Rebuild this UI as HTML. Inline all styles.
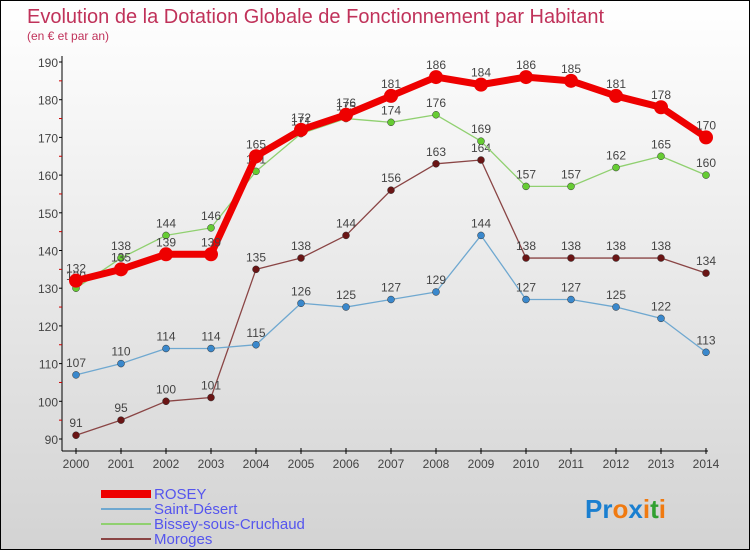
<!DOCTYPE html>
<html><head><meta charset="utf-8"><style>
body{margin:0}
#c{width:748px;height:548px;border:1px solid #000;background:linear-gradient(#fff,#d3d3d3);position:relative;font-family:"Liberation Sans",sans-serif;overflow:hidden}
</style></head><body>
<div id="c">
<svg id="s" width="748" height="548" style="position:absolute;left:0;top:0">
<text x="26" y="22" font-size="20" fill="#c0325a">Evolution de la Dotation Globale de Fonctionnement par Habitant</text>
<text x="26" y="39" font-size="12" fill="#c0325a">(en € et par an)</text>
<g id="ax"></g><g id="ser"></g>
<g font-size="15" fill="#5555ee">
<rect x="100" y="489" width="50" height="8" fill="#e00"/>
<text x="153" y="498">ROSEY</text>
<rect x="100" y="507" width="50" height="2" fill="#6fa8d0"/>
<text x="153" y="513">Saint-Désert</text>
<rect x="100" y="522" width="50" height="2" fill="#90d070"/>
<text x="153" y="528">Bissey-sous-Cruchaud</text>
<rect x="100" y="537" width="50" height="2" fill="#8a4545"/>
<text x="153" y="543">Moroges</text>
</g>
<text x="584" y="517" font-size="26" font-weight="bold"><tspan fill="#1a7fd0">Pr</tspan><tspan fill="#f07a10">o</tspan><tspan fill="#1a7fd0">x</tspan><tspan fill="#f07a10">i</tspan><tspan fill="#30a030">t</tspan><tspan fill="#f07a10">i</tspan></text>
</svg></div>
<script>
const years=[2000,2001,2002,2003,2004,2005,2006,2007,2008,2009,2010,2011,2012,2013,2014];
const yTicks=[90,100,110,120,130,140,150,160,170,180,190];
const rosey=[132,135,139,139,165,172,176,181,186,184,186,185,181,178,170];
const saintDesert=[107,110,114,114,115,126,125,127,129,144,127,127,125,122,113];
const bissey=[130,138,144,146,161,171,175,174,176,169,157,157,162,165,160];
const moroges=[91,95,100,101,135,138,144,156,163,164,138,138,138,138,134];
const NS="http://www.w3.org/2000/svg";
const X=i=>75+i*45, Y=v=>438-(v-90)*3.77;
function mk(p,t,a){const e=document.createElementNS(NS,t);for(const k in a)e.setAttribute(k,a[k]);p.appendChild(e);return e;}
const ax=document.getElementById('ax');
let l=mk(ax,'line',{x1:61,y1:55,x2:61,y2:450,stroke:'#000'});


l=mk(ax,'line',{x1:61,y1:450,x2:707,y2:450,stroke:'#000'});


yTicks.forEach(v=>{mk(ax,'line',{x1:58,x2:61,y1:Y(v),y2:Y(v),stroke:'#000'});
 if(v<190)mk(ax,'line',{x1:58,x2:61,y1:Y(v+5),y2:Y(v+5),stroke:'#c00'});
 const t=mk(ax,'text',{x:57,y:Y(v)+5,'font-size':12,fill:'#444','text-anchor':'end'});t.textContent=v;
 
 });
years.forEach((y,i)=>{mk(ax,'line',{x1:X(i),x2:X(i),y1:447,y2:453,stroke:'#000'});
 const t=mk(ax,'text',{x:X(i),y:467,'font-size':12,fill:'#444','text-anchor':'middle'});t.textContent=y;
 
 });
const ser=document.getElementById('ser');
function draw(d,name,col,dot,w,r){const g=mk(ser,'g',{});
 
 
 mk(g,'polyline',{points:d.map((v,i)=>X(i)+','+Y(v)).join(' '),fill:'none',stroke:col,'stroke-width':w,'stroke-linejoin':'round'});
 d.forEach((v,i)=>{const c=mk(g,'circle',{cx:X(i),cy:Y(v),r:r,fill:dot,stroke:'#333','stroke-width':r>5?0:0.5});
  
  
  const t=mk(g,'text',{x:X(i),y:Y(v)-8,'font-size':12,fill:'#444','text-anchor':'middle'});t.textContent=v;
  
  });}
draw(moroges,'moroges','#8a4545','#6a1515',1.3,3.5);
draw(saintDesert,'saint-desert','#6fa8d0','#3a88cc',1.3,3.5);
draw(bissey,'bissey','#90d070','#66cc33',1.3,3.5);
draw(rosey,'rosey','#e00','#e00',7,7);
</script>
</body></html>
